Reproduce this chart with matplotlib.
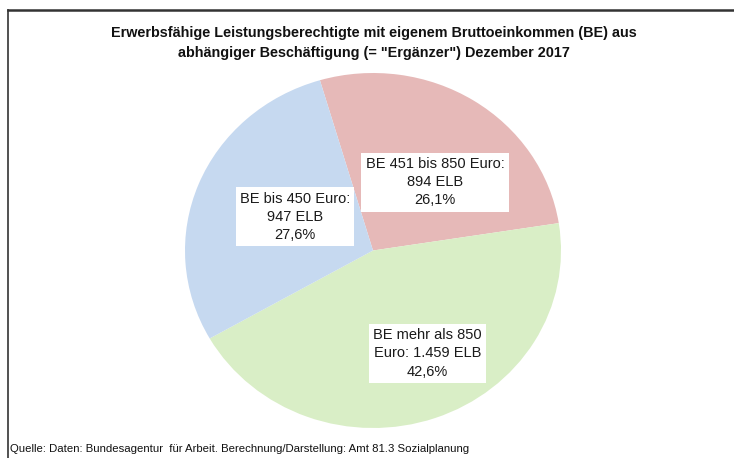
import matplotlib.pyplot as plt
from matplotlib.lines import Line2D

# data (clockwise from the top)
categories = ['BE 451 bis 850 Euro', 'BE mehr als 850 Euro', 'BE bis 450 Euro']
elb_counts = [894, 1459, 947]
shares = ['26,1%', '42,6%', '27,6%']
label_texts = [
    'BE 451 bis 850 Euro:\n894 ELB\n26,1%',
    'BE mehr als 850\nEuro: 1.459 ELB\n42,6%',
    'BE bis 450 Euro:\n947 ELB\n27,6%',
]
colors = ['#E6B9B8', '#D9EEC6', '#C6D9F0']

title = ('Erwerbsfähige Leistungsberechtigte mit eigenem Bruttoeinkommen (BE) aus\n'
         'abhängiger Beschäftigung (= "Ergänzer") Dezember 2017')
source = 'Quelle: Daten: Bundesagentur  für Arbeit. Berechnung/Darstellung: Amt 81.3 Sozialplanung'

# label positions in axes data units (layout)
label_pos = [(0.33, 0.385), (0.29, -0.58), (-0.415, 0.19)]

font = ['Liberation Sans', 'DejaVu Sans']

fig = plt.figure(figsize=(7.34, 4.58), dpi=100, facecolor='white')
ax = fig.add_axes([185/734, 30/458, 376/734, 355/458])

ax.pie(elb_counts, colors=colors, startangle=106.4, counterclock=False,
       radius=1.0, wedgeprops=dict(linewidth=0))
ax.set_aspect('auto')
ax.set_xlim(-1, 1)
ax.set_ylim(-1, 1)
ax.axis('off')

for txt, (x, y) in zip(label_texts, label_pos):
    ax.text(x, y, txt, ha='center', va='center', fontsize=10.5,
            family=font, color='#1a1a1a', linespacing=1.38,
            bbox=dict(facecolor='white', edgecolor='none', pad=3))

fig.text(374/734, 1 - 43/458, title, ha='center', va='center', fontsize=10.4,
         fontweight='bold', family=font, linespacing=1.55, color='#111111')
fig.text(10/734, 1 - 449/458, source, ha='left', va='center', fontsize=8.2,
         family=font, color='#111111')

# chart frame (top and left edges)
fig.add_artist(Line2D([8/734, 1.0], [1 - 10/458, 1 - 10/458], color='#333333',
                      linewidth=1.8, transform=fig.transFigure))
fig.add_artist(Line2D([8/734, 8/734], [0, 1 - 10/458], color='#333333',
                      linewidth=1.2, transform=fig.transFigure))

fig.savefig('out.png', dpi=100, facecolor='white')
